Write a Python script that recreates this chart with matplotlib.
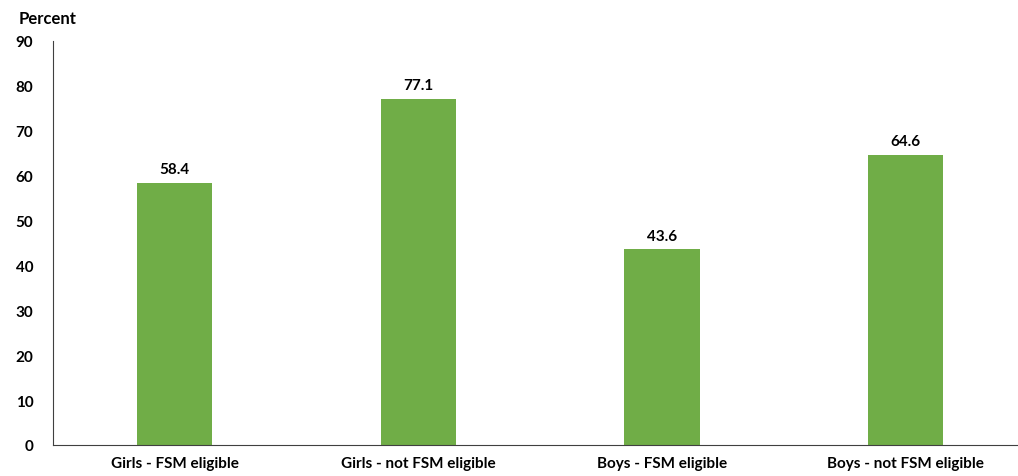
import matplotlib.pyplot as plt

categories = ["Girls - FSM eligible", "Girls - not FSM eligible",
              "Boys - FSM eligible", "Boys - not FSM eligible"]
values = [58.4, 77.1, 43.6, 64.6]
yticks = [0, 10, 20, 30, 40, 50, 60, 70, 80, 90]

plt.rcParams['font.family'] = ['Lato', 'DejaVu Sans']
plt.rcParams['font.weight'] = 'bold'

fig = plt.figure(figsize=(10.18, 4.77), dpi=100)
ax = fig.add_axes([0.052, 0.065, 0.95, 0.847])

x = range(len(categories))
bars = ax.bar(x, values, width=0.31, color="#70AD47")
for xi, v in zip(x, values):
    ax.text(xi, v + 1.5, f"{v:.1f}", ha="center", va="bottom",
            fontsize=11, fontweight="bold")

ax.set_xlim(-0.5, 3.47)
ax.set_ylim(0, 90)
ax.set_yticks(yticks)
ax.set_xticks(list(x))
ax.set_xticklabels(categories, fontsize=11, fontweight="bold")
ax.tick_params(axis="y", labelsize=11, length=0, pad=14)
ax.tick_params(axis="x", length=0, pad=8)
for lbl in ax.get_yticklabels():
    lbl.set_fontweight("bold")

ax.spines["top"].set_visible(False)
ax.spines["right"].set_visible(False)
ax.spines["left"].set_color("#404040")
ax.spines["bottom"].set_color("#404040")

fig.text(0.018, 0.96, "Percent", fontsize=12, fontweight="bold", va="center")

fig.savefig("out.png", dpi=100)
